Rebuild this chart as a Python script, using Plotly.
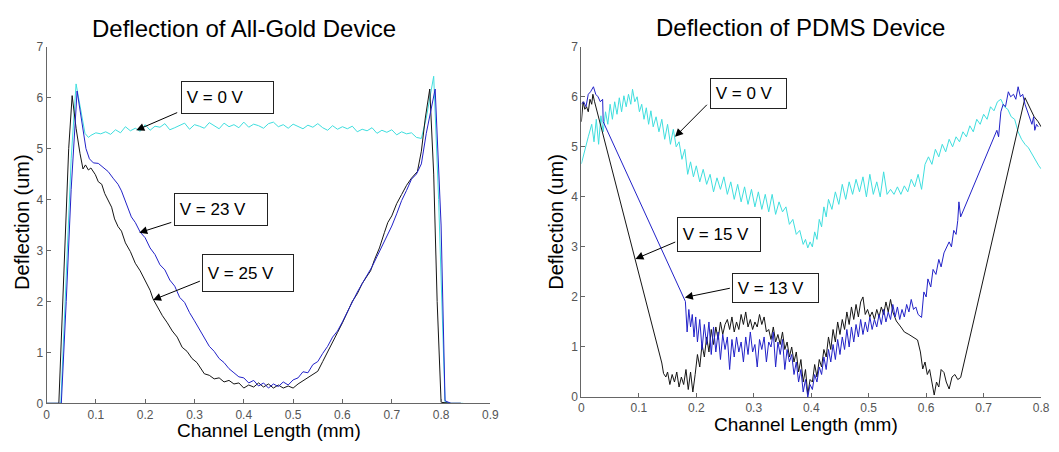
import plotly.graph_objects as go

W, H = 1059, 452

# ---- All-Gold device (left) ----
gold_v0_x = [0.0, 0.029, 0.04, 0.05, 0.06, 0.07, 0.078, 0.085,
             0.09, 0.10, 0.11, 0.12, 0.13, 0.14, 0.15, 0.16, 0.17, 0.18, 0.19,
             0.20, 0.21, 0.22, 0.23, 0.24, 0.25, 0.26, 0.27, 0.28, 0.29,
             0.30, 0.31, 0.32, 0.33, 0.34, 0.35, 0.36, 0.37, 0.38, 0.39,
             0.40, 0.41, 0.42, 0.43, 0.44, 0.45, 0.46, 0.47, 0.48, 0.49,
             0.50, 0.51, 0.52, 0.53, 0.54, 0.55, 0.56, 0.57, 0.58, 0.59,
             0.60, 0.61, 0.62, 0.63, 0.64, 0.65, 0.66, 0.67, 0.68, 0.69,
             0.70, 0.71, 0.72, 0.73, 0.74, 0.75, 0.76, 0.77, 0.785, 0.795,
             0.808, 0.82, 0.845]
gold_v0_y = [0.0, 0.0, 2.5, 4.8, 6.27, 5.7, 5.3, 5.22,
             5.26, 5.31, 5.29, 5.33, 5.28, 5.37, 5.31, 5.43, 5.35, 5.40, 5.34,
             5.47, 5.36, 5.44, 5.42, 5.49, 5.37, 5.41, 5.46, 5.50, 5.38,
             5.47, 5.44, 5.40, 5.51, 5.45, 5.39, 5.50, 5.43, 5.47, 5.41,
             5.52, 5.42, 5.48, 5.45, 5.40, 5.49, 5.52, 5.43, 5.47, 5.40,
             5.48, 5.44, 5.39, 5.46, 5.42, 5.49, 5.41, 5.36, 5.45, 5.38,
             5.43, 5.39, 5.44, 5.33, 5.38, 5.35, 5.41, 5.30, 5.36, 5.32,
             5.37, 5.27, 5.33, 5.29, 5.31, 5.22, 5.20, 5.6, 6.42, 4.0,
             0.02, 0.0, 0.0]

gold_v23_x = [0.0, 0.03, 0.04, 0.05, 0.062, 0.07, 0.08, 0.087, 0.095, 0.105,
              0.115, 0.125, 0.135, 0.145, 0.152, 0.16, 0.172, 0.18, 0.19,
              0.20, 0.21, 0.22, 0.23, 0.24, 0.25, 0.26, 0.27, 0.28, 0.29,
              0.30, 0.31, 0.32, 0.33, 0.34, 0.35, 0.36, 0.37, 0.38, 0.39,
              0.40, 0.41, 0.42, 0.43, 0.44, 0.45, 0.46, 0.47, 0.48, 0.49,
              0.50, 0.51, 0.52, 0.53, 0.54, 0.55, 0.56, 0.57, 0.58, 0.59,
              0.60, 0.61, 0.62, 0.63, 0.64, 0.65, 0.66, 0.67, 0.68, 0.69,
              0.70, 0.71, 0.72, 0.73, 0.74, 0.75, 0.76, 0.77, 0.788, 0.80,
              0.808, 0.82, 0.84]
gold_v23_y = [0.0, 0.0, 2.0, 4.2, 6.13, 5.6, 5.0, 4.8, 4.72, 4.71,
              4.62, 4.55, 4.42, 4.30, 4.17, 3.95, 3.66, 3.55, 3.36,
              3.25, 3.05, 2.92, 2.72, 2.62, 2.42, 2.30, 2.08, 1.98, 1.78,
              1.62, 1.45, 1.30, 1.12, 1.02, 0.88, 0.80, 0.68, 0.60, 0.52,
              0.50, 0.40, 0.45, 0.34, 0.40, 0.30, 0.38, 0.33, 0.42, 0.36,
              0.46, 0.50, 0.62, 0.60, 0.76, 0.82, 0.98, 1.12, 1.30, 1.42,
              1.60, 1.80, 1.98, 2.18, 2.35, 2.52, 2.68, 2.88, 3.08, 3.30,
              3.48, 3.72, 3.98, 4.18, 4.40, 4.50, 4.70, 5.3, 6.17, 3.5,
              0.05, 0.0, 0.0]

gold_v25_x = [0.0, 0.025, 0.035, 0.045, 0.052, 0.06, 0.068, 0.074, 0.079, 0.085,
              0.09, 0.099, 0.105, 0.112, 0.118, 0.125, 0.132, 0.138, 0.145,
              0.152, 0.16, 0.17, 0.18, 0.19, 0.20, 0.21, 0.216, 0.225, 0.235,
              0.245, 0.255, 0.265, 0.275, 0.285, 0.295, 0.305, 0.312, 0.32,
              0.33, 0.34, 0.35, 0.36, 0.37, 0.38, 0.39, 0.40, 0.41, 0.42,
              0.43, 0.44, 0.45, 0.46, 0.47, 0.48, 0.49, 0.50, 0.51, 0.52,
              0.53, 0.54, 0.55, 0.56, 0.57, 0.58, 0.59, 0.60, 0.61, 0.62,
              0.63, 0.64, 0.65, 0.657, 0.665, 0.675, 0.685, 0.692, 0.70,
              0.71, 0.72, 0.73, 0.74, 0.752, 0.76, 0.768, 0.777, 0.785,
              0.792, 0.80, 0.82, 0.84]
gold_v25_y = [0.0, 0.0, 2.5, 5.0, 6.04, 5.4, 4.9, 4.6, 4.68, 4.58,
              4.62, 4.49, 4.35, 4.30, 4.12, 3.98, 3.85, 3.62, 3.47,
              3.38, 3.15, 2.98, 2.75, 2.60, 2.42, 2.22, 2.05, 1.88, 1.72,
              1.58, 1.42, 1.30, 1.10, 1.02, 0.88, 0.80, 0.70, 0.58,
              0.55, 0.48, 0.50, 0.42, 0.45, 0.38, 0.40, 0.30, 0.36, 0.32,
              0.40, 0.32, 0.38, 0.30, 0.36, 0.30, 0.34, 0.30, 0.38, 0.44,
              0.50, 0.56, 0.63, 0.82, 1.02, 1.22, 1.39, 1.58, 1.78, 2.00,
              2.15, 2.35, 2.50, 2.60, 2.82, 3.05, 3.35, 3.55, 3.68,
              3.92, 4.10, 4.28, 4.42, 4.55, 4.95, 5.6, 6.17, 4.5,
              2.0, 0.02, 0.0, 0.0]

# ---- PDMS device (right) ----
pdms_v0_x = [0.000, 0.006, 0.012, 0.018, 0.022, 0.026, 0.030, 0.034, 0.038, 0.042,
             0.046, 0.050, 0.054, 0.058, 0.062, 0.066, 0.070, 0.074, 0.078, 0.082,
             0.086, 0.089, 0.093, 0.097, 0.101, 0.105, 0.109, 0.113, 0.117, 0.121,
             0.125, 0.130, 0.135, 0.140, 0.145, 0.150, 0.155, 0.160, 0.165, 0.170,
             0.175, 0.180, 0.185, 0.190, 0.195, 0.200, 0.206, 0.212, 0.218, 0.224,
             0.230, 0.236, 0.242, 0.248, 0.254, 0.260, 0.266, 0.272, 0.278, 0.284,
             0.290, 0.296, 0.302, 0.308, 0.314, 0.320, 0.326, 0.332, 0.338, 0.344,
             0.350, 0.356, 0.362, 0.368, 0.374, 0.380, 0.386, 0.390, 0.394, 0.398,
             0.402, 0.406, 0.410, 0.414, 0.418, 0.422, 0.426, 0.430, 0.436, 0.442,
             0.448, 0.454, 0.460, 0.466, 0.472, 0.478, 0.484, 0.490, 0.496, 0.502,
             0.508, 0.514, 0.520, 0.526, 0.532, 0.538, 0.544, 0.550, 0.556, 0.562,
             0.568, 0.574, 0.580, 0.586, 0.592, 0.598, 0.604, 0.610, 0.616, 0.622,
             0.628, 0.634, 0.640, 0.646, 0.652, 0.658, 0.664, 0.670, 0.676, 0.682,
             0.688, 0.694, 0.700, 0.706, 0.712, 0.718, 0.724, 0.730, 0.736, 0.742,
             0.748, 0.754, 0.760, 0.766, 0.772, 0.778, 0.784, 0.790, 0.796, 0.800]
pdms_v0_y = [4.66, 4.95, 5.20, 5.45, 5.10, 5.55, 5.05, 5.62, 5.30, 5.70,
             5.45, 5.85, 5.55, 5.90, 5.65, 5.98, 5.70, 6.02, 5.80, 6.05,
             5.85, 6.15, 5.90, 6.00, 5.70, 5.85, 5.55, 5.78, 5.45, 5.72,
             5.40, 5.60, 5.30, 5.55, 5.15, 5.45, 5.05, 5.35, 5.00, 5.10,
             4.75, 4.95, 4.45, 4.70, 4.40, 4.62, 4.30, 4.55, 4.25, 4.45,
             4.10, 4.38, 4.15, 4.40, 4.05, 4.30, 3.95, 4.25, 3.90, 4.20,
             3.85, 4.15, 3.80, 4.10, 3.75, 4.05, 3.70, 4.05, 3.65, 3.90,
             3.70, 3.80, 3.45, 3.55, 3.25, 3.33, 3.05, 3.15, 2.98, 3.10,
             3.00, 3.30, 3.15, 3.55, 3.40, 3.80, 3.60, 3.95, 3.75, 4.10,
             3.85, 4.25, 3.95, 4.30, 4.05, 4.35, 4.10, 4.40, 4.00, 4.45,
             4.05, 4.30, 4.00, 4.50, 4.05, 4.15, 4.05, 4.20, 4.05, 4.22,
             4.10, 4.35, 4.20, 4.45, 4.15, 4.65, 4.80, 4.65, 4.95, 4.80,
             5.05, 4.90, 5.15, 5.00, 5.20, 5.10, 5.30, 5.20, 5.42, 5.30,
             5.55, 5.45, 5.65, 5.55, 5.80, 5.72, 5.90, 5.95, 5.80, 5.75,
             5.60, 5.55, 5.30, 5.15, 5.05, 4.98, 4.85, 4.75, 4.62, 4.56]

pdms_v15_x = [0.000, 0.004, 0.008, 0.012, 0.016, 0.021, 0.025, 0.029, 0.033, 0.037,
              0.038, 0.181, 0.184, 0.187, 0.190, 0.193, 0.196, 0.199, 0.202, 0.206,
              0.210, 0.214, 0.218, 0.222, 0.226, 0.230, 0.234, 0.238, 0.242, 0.246,
              0.250, 0.254, 0.258, 0.262, 0.266, 0.270, 0.274, 0.278, 0.282, 0.286,
              0.290, 0.294, 0.298, 0.302, 0.306, 0.310, 0.314, 0.318, 0.322, 0.326,
              0.330, 0.334, 0.338, 0.342, 0.346, 0.350, 0.354, 0.358, 0.362, 0.366,
              0.370, 0.374, 0.378, 0.382, 0.386, 0.390, 0.394, 0.398, 0.402, 0.406,
              0.410, 0.414, 0.418, 0.422, 0.426, 0.430, 0.434, 0.438, 0.442, 0.446,
              0.450, 0.454, 0.458, 0.462, 0.466, 0.470, 0.474, 0.478, 0.482, 0.486,
              0.490, 0.494, 0.498, 0.502, 0.506, 0.510, 0.514, 0.518, 0.522, 0.526,
              0.530, 0.534, 0.538, 0.542, 0.546, 0.550, 0.554, 0.558, 0.562, 0.566,
              0.570, 0.574, 0.578, 0.582, 0.586, 0.592, 0.596, 0.600, 0.603, 0.608,
              0.612, 0.617, 0.622, 0.626, 0.631, 0.636, 0.640, 0.644, 0.648, 0.652,
              0.655, 0.657, 0.660, 0.723, 0.726, 0.730, 0.734, 0.738, 0.743, 0.747,
              0.752, 0.756, 0.760, 0.764, 0.768, 0.772, 0.776, 0.780, 0.784, 0.787,
              0.789, 0.792, 0.795]
pdms_v15_y = [5.85, 5.90, 5.80, 6.05, 6.10, 6.20, 6.05, 6.00, 5.90, 5.95,
              5.50, 1.91, 1.30, 1.75, 1.40, 1.65, 1.20, 1.60, 1.10, 1.55,
              0.95, 1.45, 1.05, 1.50, 0.85, 1.40, 0.90, 1.30, 0.75, 1.25,
              0.95, 1.20, 0.55, 1.15, 0.80, 1.20, 0.90, 1.10, 0.70, 1.20,
              0.85, 1.30, 0.90, 1.05, 0.60, 1.15, 0.95, 1.20, 0.70, 1.10,
              1.00, 1.30, 0.60, 1.10, 0.85, 1.15, 0.55, 0.95, 0.70, 0.85,
              0.45, 0.70, 0.30, 0.55, 0.10, 0.35, 0.00, 0.25, 0.15, 0.45,
              0.30, 0.60, 0.45, 0.80, 0.55, 0.95, 0.70, 1.05, 0.75, 1.15,
              0.85, 1.20, 0.95, 1.35, 1.00, 1.40, 1.10, 1.45, 1.20, 1.55,
              1.25, 1.50, 1.30, 1.60, 1.35, 1.55, 1.40, 1.65, 1.45, 1.75,
              1.50, 1.70, 1.55, 1.85, 1.60, 1.80, 1.55, 1.75, 1.60, 1.85,
              1.70, 1.95, 1.75, 1.80, 1.65, 1.59, 2.10, 2.00, 2.36, 2.20,
              2.55, 2.45, 2.75, 2.60, 2.88, 3.00, 3.10, 3.00, 3.33, 3.25,
              3.53, 3.90, 3.60, 5.33, 5.20, 5.70, 5.85, 5.80, 6.10, 6.00,
              6.05, 5.95, 6.20, 6.00, 6.05, 5.85, 5.70, 5.60, 5.45, 5.60,
              5.33, 5.45, 5.40]

pdms_v13_x = [0.000, 0.003, 0.006, 0.009, 0.012, 0.015, 0.018, 0.020, 0.023, 0.140,
              0.143, 0.147, 0.150, 0.154, 0.158, 0.162, 0.166, 0.170, 0.174, 0.178,
              0.182, 0.186, 0.190, 0.194, 0.198, 0.202, 0.206, 0.210, 0.214, 0.218,
              0.222, 0.226, 0.230, 0.234, 0.238, 0.242, 0.246, 0.250, 0.254, 0.258,
              0.262, 0.266, 0.270, 0.274, 0.278, 0.282, 0.286, 0.290, 0.294, 0.298,
              0.302, 0.306, 0.310, 0.314, 0.318, 0.322, 0.326, 0.330, 0.334, 0.338,
              0.342, 0.346, 0.350, 0.354, 0.358, 0.362, 0.366, 0.370, 0.374, 0.378,
              0.382, 0.386, 0.390, 0.394, 0.398, 0.402, 0.406, 0.410, 0.414, 0.418,
              0.422, 0.426, 0.430, 0.434, 0.438, 0.442, 0.446, 0.450, 0.454, 0.458,
              0.462, 0.466, 0.470, 0.474, 0.478, 0.482, 0.486, 0.490, 0.494, 0.498,
              0.502, 0.506, 0.510, 0.514, 0.518, 0.522, 0.526, 0.530, 0.534, 0.538,
              0.542, 0.548, 0.556, 0.562, 0.570, 0.578, 0.585, 0.590, 0.594, 0.598,
              0.602, 0.606, 0.610, 0.614, 0.618, 0.622, 0.626, 0.631, 0.635, 0.640,
              0.645, 0.650, 0.655, 0.660, 0.772, 0.780, 0.788, 0.795, 0.800]
pdms_v13_y = [5.50, 5.90, 5.75, 5.80, 5.70, 5.95, 5.85, 6.05, 5.90, 0.68,
              0.47, 0.40, 0.50, 0.25, 0.45, 0.30, 0.50, 0.20, 0.40, 0.25,
              0.55, 0.15, 0.50, 0.10, 0.45, 0.85, 0.60, 1.05, 0.80, 1.20,
              0.90, 1.35, 1.05, 1.40, 1.15, 1.50, 1.25, 1.45, 1.55, 1.35,
              1.60, 1.30, 1.50, 1.35, 1.65, 1.45, 1.70, 1.40, 1.55, 1.35,
              1.50, 1.40, 1.65, 1.45, 1.60, 1.30, 1.35, 1.15, 1.40, 1.10,
              1.25, 1.05, 1.30, 0.95, 1.10, 0.80, 1.00, 0.70, 0.90, 0.50,
              0.75, 0.30, 0.55, 0.05, 0.35, 0.30, 0.65, 0.40, 0.75, 0.60,
              0.95, 0.80, 1.20, 0.95, 1.35, 1.10, 1.50, 1.25, 1.55, 1.35,
              1.70, 1.45, 1.80, 1.55, 1.85, 1.60, 1.90, 2.00, 1.65, 1.75,
              1.60, 1.70, 1.55, 1.75, 1.60, 1.80, 1.65, 1.90, 1.70, 1.95,
              1.70, 1.52, 1.40, 1.30, 1.25, 1.20, 1.14, 0.90, 0.56, 0.70,
              0.45, 0.55, 0.25, 0.04, 0.30, 0.20, 0.55, 0.49, 0.30, 0.16,
              0.40, 0.45, 0.35, 0.39, 5.98, 5.80, 5.60, 5.50, 5.40]

gold_ticks = [0, 0.1, 0.2, 0.3, 0.4, 0.5, 0.6, 0.7, 0.8, 0.9]
gold_ticktext = ["0", "0.1", "0.2", "0.3", "0.4", "0.5", "0.6", "0.7", "0.8", "0.9"]
pdms_ticks = [0, 0.1, 0.2, 0.3, 0.4, 0.5, 0.6, 0.7, 0.8]
pdms_ticktext = ["0", "0.1", "0.2", "0.3", "0.4", "0.5", "0.6", "0.7", "0.8"]
y_ticks = [0, 1, 2, 3, 4, 5, 6, 7]

CYAN = "#3fdede"
BLUE = "#2222c8"
BLACK = "#151515"
FONT = "Arial, Liberation Sans, sans-serif"

fig = go.Figure()

for xs, ys, col, xa, ya in [
    (gold_v0_x, gold_v0_y, CYAN, "x", "y"),
    (gold_v25_x, gold_v25_y, BLACK, "x", "y"),
    (gold_v23_x, gold_v23_y, BLUE, "x", "y"),
    (pdms_v0_x, pdms_v0_y, CYAN, "x2", "y2"),
    (pdms_v13_x, pdms_v13_y, BLACK, "x2", "y2"),
    (pdms_v15_x, pdms_v15_y, BLUE, "x2", "y2"),
]:
    fig.add_trace(go.Scatter(x=xs, y=ys, mode="lines", xaxis=xa, yaxis=ya,
                             line=dict(color=col, width=1), showlegend=False,
                             hoverinfo="skip"))

axis_style = dict(showline=True, linecolor="#666", linewidth=1, ticks="inside",
                  ticklen=4, tickcolor="#666", showgrid=False, zeroline=False,
                  ticklabeloverflow="allow",
                  tickfont=dict(family=FONT, size=12, color="#555"), fixedrange=True)

fig.update_layout(
    width=W, height=H,
    margin=dict(l=0, r=0, t=0, b=0),
    paper_bgcolor="white", plot_bgcolor="white",
    xaxis=dict(domain=[44 / W, 493 / W], range=[0, 0.9], tickvals=gold_ticks,
               ticktext=gold_ticktext, anchor="y", **axis_style),
    yaxis=dict(domain=[(H - 409) / H, (H - 41) / H], range=[0, 7], tickvals=y_ticks,
               anchor="x", **axis_style),
    xaxis2=dict(domain=[585 / W, 1050 / W], range=[0, 0.8], tickvals=pdms_ticks,
                ticktext=pdms_ticktext, anchor="y2", **axis_style),
    yaxis2=dict(domain=[(H - 402.5) / H, (H - 41) / H], range=[0, 7], tickvals=y_ticks,
                anchor="x2", **axis_style),
)

# titles and axis labels
def paper_text(text, px, py, size, angle=0):
    fig.add_annotation(text=text, x=px / W, y=1 - py / H, xref="paper", yref="paper",
                       showarrow=False, textangle=angle, xanchor="center", yanchor="middle",
                       font=dict(family=FONT, size=size, color="black"))

paper_text("Deflection of All-Gold Device", 244, 22, 24)
paper_text("Deflection of PDMS Device", 807, 21, 24)
paper_text("Channel Length (mm)", 269, 437, 19)
paper_text("Channel Length (mm)", 812, 431, 19)
paper_text("Deflection (um)", 19, 222, 20, -90)
paper_text("Deflection (um)", 559, 222, 20, -90)

# labelled boxes: (label, xref, yref, box left, box top, width px, height px)
boxes = [
    ("V = 0 V", "x", "y", 0.272, 6.33, 93, 33),
    ("V = 23 V", "x", "y", 0.258, 4.13, 94, 33),
    ("V = 25 V", "x", "y", 0.316, 2.93, 92, 38),
    ("V = 0 V", "x2", "y2", 0.223, 6.37, 77, 31),
    ("V = 15 V", "x2", "y2", 0.166, 3.59, 84, 35),
    ("V = 13 V", "x2", "y2", 0.262, 2.47, 87, 30),
]
for label, xr, yr, bx, by, bw, bh in boxes:
    fig.add_annotation(text="\u00a0" + label, x=bx, y=by, xref=xr, yref=yr,
                       xanchor="left", yanchor="top", showarrow=False, align="left",
                       width=bw - 2, height=bh - 2, borderpad=0,
                       bordercolor="#222", borderwidth=1, bgcolor="white",
                       font=dict(family=FONT, size=17, color="black"))

# arrows: (xref, yref, tail x, tail y, head x, head y)
arrows = [
    ("x", "y", 0.268, 5.72, 0.182, 5.36),
    ("x", "y", 0.256, 3.56, 0.188, 3.35),
    ("x", "y", 0.314, 2.41, 0.216, 2.03),
    ("x2", "y2", 0.221, 5.87, 0.163, 5.20),
    ("x2", "y2", 0.166, 3.11, 0.094, 2.76),
    ("x2", "y2", 0.261, 2.18, 0.180, 1.99),
]
for xr, yr, tx, ty, hx, hy in arrows:
    fig.add_annotation(text="", x=hx, y=hy, ax=tx, ay=ty, xref=xr, yref=yr,
                       axref=xr, ayref=yr, showarrow=True, arrowhead=2,
                       arrowsize=1.6, arrowwidth=1, arrowcolor="black")

# the page body has a default 8px margin; drop it so the figure sits at (0, 0)
fig.write_html("out.html", config={"displayModeBar": False},
               post_script="document.body.style.margin='0';document.body.style.overflow='hidden';")
